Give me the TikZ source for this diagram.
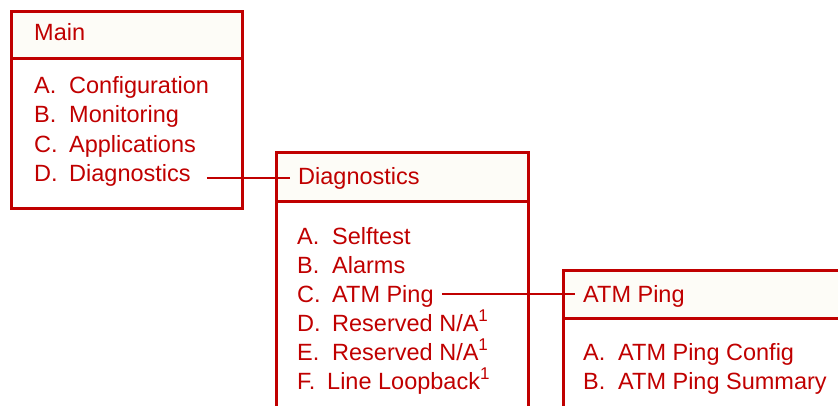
\documentclass[tikz,border=0pt]{standalone}
\usepackage{fontspec}
\setmainfont{Liberation Sans}
\definecolor{menured}{RGB}{192,0,0}
\definecolor{headcream}{RGB}{253,252,247}
\newcommand{\menulbl}[2][35pt]{\makebox[#1][l]{#2}}
\newcommand{\menunote}{\raisebox{10pt}{\fontsize{17}{17}\selectfont 1}}
\begin{document}
\begin{tikzpicture}[x=1pt,y=-1pt,
  menubox/.style={draw=menured,line width=3pt},
  menuhead/.style={menubox,fill=headcream},
  entry/.style={anchor=base west,inner sep=0pt,text=menured,font=\fontsize{23.5}{28}\selectfont},
  link/.style={draw=menured,line width=1.2pt}]
  %ramme
  \useasboundingbox (0,0) rectangle (838,406);
  \clip (0,0) rectangle (838,406);

  %Main
  \draw[menuhead] (11,12) rectangle (242,59);
  \draw[menubox] (11,59) rectangle (242,209);
  \node[entry] (mainhead) at (34,41) {Main};
  \node[entry] (maina) at (34,94) {\menulbl{A.}Configuration};
  \node[entry] (mainb) at (34,123) {\menulbl{B.}Monitoring};
  \node[entry] (mainc) at (34,153) {\menulbl{C.}Applications};
  \node[entry] (maind) at (34,182) {\menulbl{D.}Diagnostics};

  %Diagnostics
  \draw[menuhead] (276,153) rectangle (528,202);
  \draw[menubox] (276,202) rectangle (528,420);
  \node[entry] (diaghead) at (298,185) {Diagnostics};
  \node[entry] (diaga) at (297,244) {\menulbl{A.}Selftest};
  \node[entry] (diagb) at (297,273) {\menulbl{B.}Alarms};
  \node[entry] (diagc) at (297,302) {\menulbl{C.}ATM Ping};
  \node[entry] (diagd) at (297,331) {\menulbl{D.}Reserved N/A\menunote};
  \node[entry] (diage) at (297,360) {\menulbl{E.}Reserved N/A\menunote};
  \node[entry] (diagf) at (297,389) {\menulbl[30pt]{F.}Line Loopback\menunote};

  %ATM Ping
  \draw[menuhead] (563,270) rectangle (850,318);
  \draw[menubox] (563,318) rectangle (850,420);
  \node[entry] (atmhead) at (583,302) {ATM Ping};
  \node[entry] (atma) at (583,360) {\menulbl{A.}ATM Ping Config};
  \node[entry] (atmb) at (583,389) {\menulbl{B.}ATM Ping Summary};

  %forbindelser
  \coordinate (diagin) at ([xshift=-8pt,yshift=7pt]diaghead.base west);
  \draw[link] ([xshift=16pt]maind.east |- diagin) -- (diagin);
  \coordinate (atmin) at ([xshift=-8pt,yshift=8pt]atmhead.base west);
  \draw[link] ([xshift=8pt]diagc.east |- atmin) -- (atmin);
\end{tikzpicture}
\end{document}
